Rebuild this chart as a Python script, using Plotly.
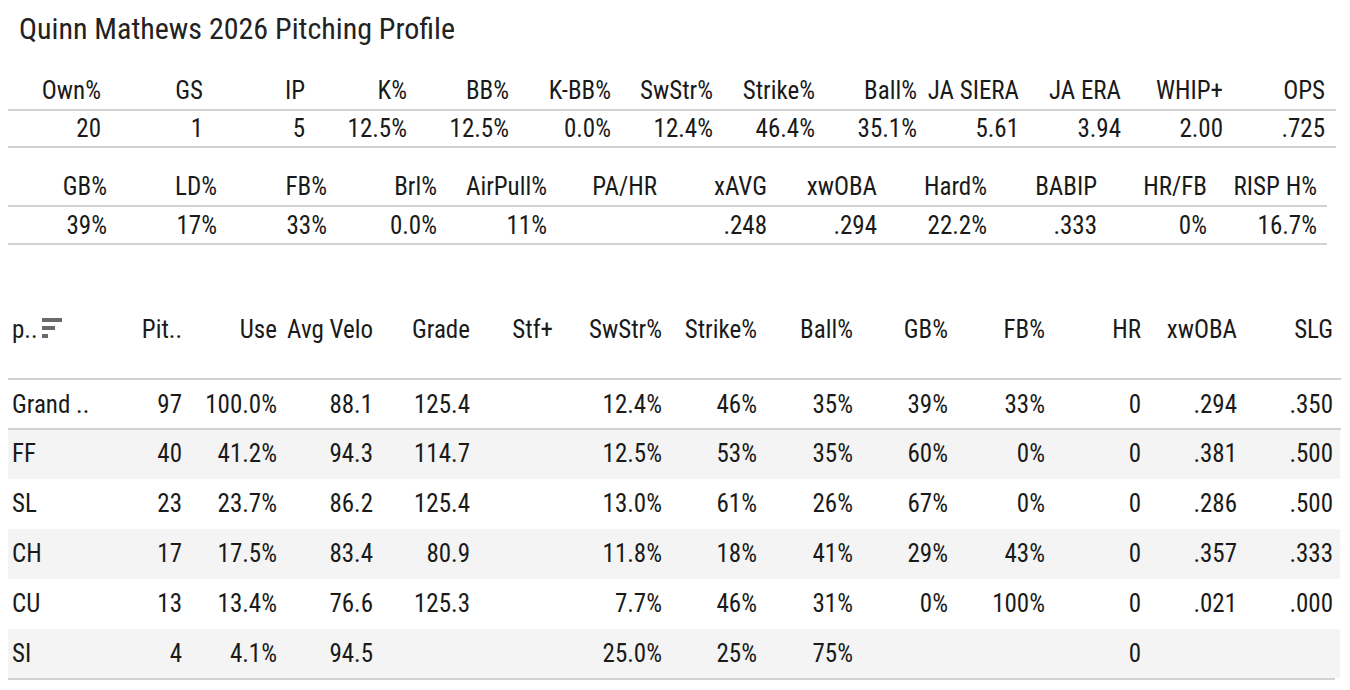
import plotly.graph_objects as go

# ---------------- data ----------------
title_text = "Quinn Mathews 2026 Pitching Profile"

t1_labels = ["Own%", "GS", "IP", "K%", "BB%", "K-BB%", "SwStr%", "Strike%", "Ball%",
             "JA SIERA", "JA ERA", "WHIP+", "OPS"]
t1_values = ["20", "1", "5", "12.5%", "12.5%", "0.0%", "12.4%", "46.4%", "35.1%",
             "5.61", "3.94", "2.00", ".725"]

t2_labels = ["GB%", "LD%", "FB%", "Brl%", "AirPull%", "PA/HR", "xAVG", "xwOBA", "Hard%",
             "BABIP", "HR/FB", "RISP H%"]
t2_values = ["39%", "17%", "33%", "0.0%", "11%", "", ".248", ".294", "22.2%",
             ".333", "0%", "16.7%"]

t3_labels = ["p..", "Pit..", "Use", "Avg Velo", "Grade", "Stf+", "SwStr%", "Strike%",
             "Ball%", "GB%", "FB%", "HR", "xwOBA", "SLG"]
pitch_types = ["Grand ..", "FF", "SL", "CH", "CU", "SI"]
pitches   = ["97", "40", "23", "17", "13", "4"]
use       = ["100.0%", "41.2%", "23.7%", "17.5%", "13.4%", "4.1%"]
avg_velo  = ["88.1", "94.3", "86.2", "83.4", "76.6", "94.5"]
grade     = ["125.4", "114.7", "125.4", "80.9", "125.3", ""]
stf_plus  = ["", "", "", "", "", ""]
swstr     = ["12.4%", "12.5%", "13.0%", "11.8%", "7.7%", "25.0%"]
strike    = ["46%", "53%", "61%", "18%", "46%", "25%"]
ball      = ["35%", "35%", "26%", "41%", "31%", "75%"]
gb_pct    = ["39%", "60%", "67%", "29%", "0%", ""]
fb_pct    = ["33%", "0%", "0%", "43%", "100%", ""]
hr        = ["0", "0", "0", "0", "0", "0"]
xwoba     = [".294", ".381", ".286", ".357", ".021", ""]
slg       = [".350", ".500", ".500", ".333", ".000", ""]

# ---------------- layout constants ----------------
FONT = "Roboto Condensed, Liberation Sans Narrow, DejaVu Sans Condensed, Roboto, sans-serif"
TXT = "#1a1a1a"
LINE = "#d2d2d2"
BAND = "#f4f4f4"
FS = 25

t1_x = [101, 203, 305, 407, 509, 611, 713, 815, 917, 1019, 1121, 1223, 1325]
t1_y_head, t1_y_val = 93, 131
t2_x = [107, 217, 327, 437, 547, 657, 767, 877, 987, 1097, 1207, 1317]
t2_y_head, t2_y_val = 189, 228
t3_first_x = 12
t3_x = [182, 277, 373, 470, 553, 662, 757, 853, 948, 1045, 1141, 1237, 1333]
t3_y_head = 332
t3_row_y = [407, 456, 506, 556, 606, 656]

fig = go.Figure()

def text_trace(xs, ys, texts, pos):
    fig.add_trace(go.Scatter(
        x=xs, y=ys, text=texts, mode="text", textposition=pos,
        marker=dict(size=0),
        textfont=dict(family=FONT, size=FS, color=TXT),
        hoverinfo="skip", showlegend=False, cliponaxis=False))

# table 1
text_trace(t1_x, [t1_y_head] * len(t1_x), t1_labels, "middle left")
text_trace(t1_x, [t1_y_val] * len(t1_x), t1_values, "middle left")
# table 2
text_trace(t2_x, [t2_y_head] * len(t2_x), t2_labels, "middle left")
text_trace(t2_x, [t2_y_val] * len(t2_x), t2_values, "middle left")
# table 3
text_trace([t3_first_x], [t3_y_head], [t3_labels[0]], "middle right")
text_trace(t3_x, [t3_y_head] * len(t3_x), t3_labels[1:], "middle left")
text_trace([t3_first_x] * len(pitch_types), t3_row_y, pitch_types, "middle right")
cols = [pitches, use, avg_velo, grade, stf_plus, swstr, strike, ball,
        gb_pct, fb_pct, hr, xwoba, slg]
for cx, col in zip(t3_x, cols):
    text_trace([cx] * len(col), t3_row_y, col, "middle left")

shapes = []
# row bands
bands = [(430, 479), (529, 579), (629, 678)]
for y0, y1 in bands:
    shapes.append(dict(type="rect", xref="x", yref="y", x0=0, x1=1340, y0=y0, y1=y1,
                       fillcolor=BAND, line=dict(width=0), layer="below"))
# lines
def hline(x0, x1, y):
    shapes.append(dict(type="line", xref="x", yref="y", x0=x0, x1=x1, y0=y, y1=y,
                       line=dict(color=LINE, width=2)))
hline(8, 1336, 110)
hline(8, 1336, 147)
hline(8, 1327, 206)
hline(8, 1327, 244)
hline(0, 1341, 379)
hline(0, 1341, 429)
hline(0, 1335, 679)
# sort icon
for x1, yy in [(62, 320), (55, 328), (48, 336)]:
    shapes.append(dict(type="rect", xref="x", yref="y", x0=42, x1=x1, y0=yy - 2, y1=yy + 2,
                       fillcolor="#6b6b6b", line=dict(width=0)))

# the page places the figure 8px in from the window corner; offset ranges so
# axis units equal window pixels
OFF = 8
fig.update_layout(
    width=1350, height=690,
    margin=dict(l=0, r=0, t=0, b=0),
    paper_bgcolor="white", plot_bgcolor="white",
    xaxis=dict(range=[OFF, 1350 + OFF], visible=False, fixedrange=True),
    yaxis=dict(range=[690 + OFF, OFF], visible=False, fixedrange=True),
    shapes=shapes,
    annotations=[dict(text=title_text, x=17, y=28, xref="x", yref="y",
                      xanchor="left", yanchor="middle", showarrow=False,
                      font=dict(family=FONT, size=30, color="#222222"))],
)

fig.write_html("out.html")
